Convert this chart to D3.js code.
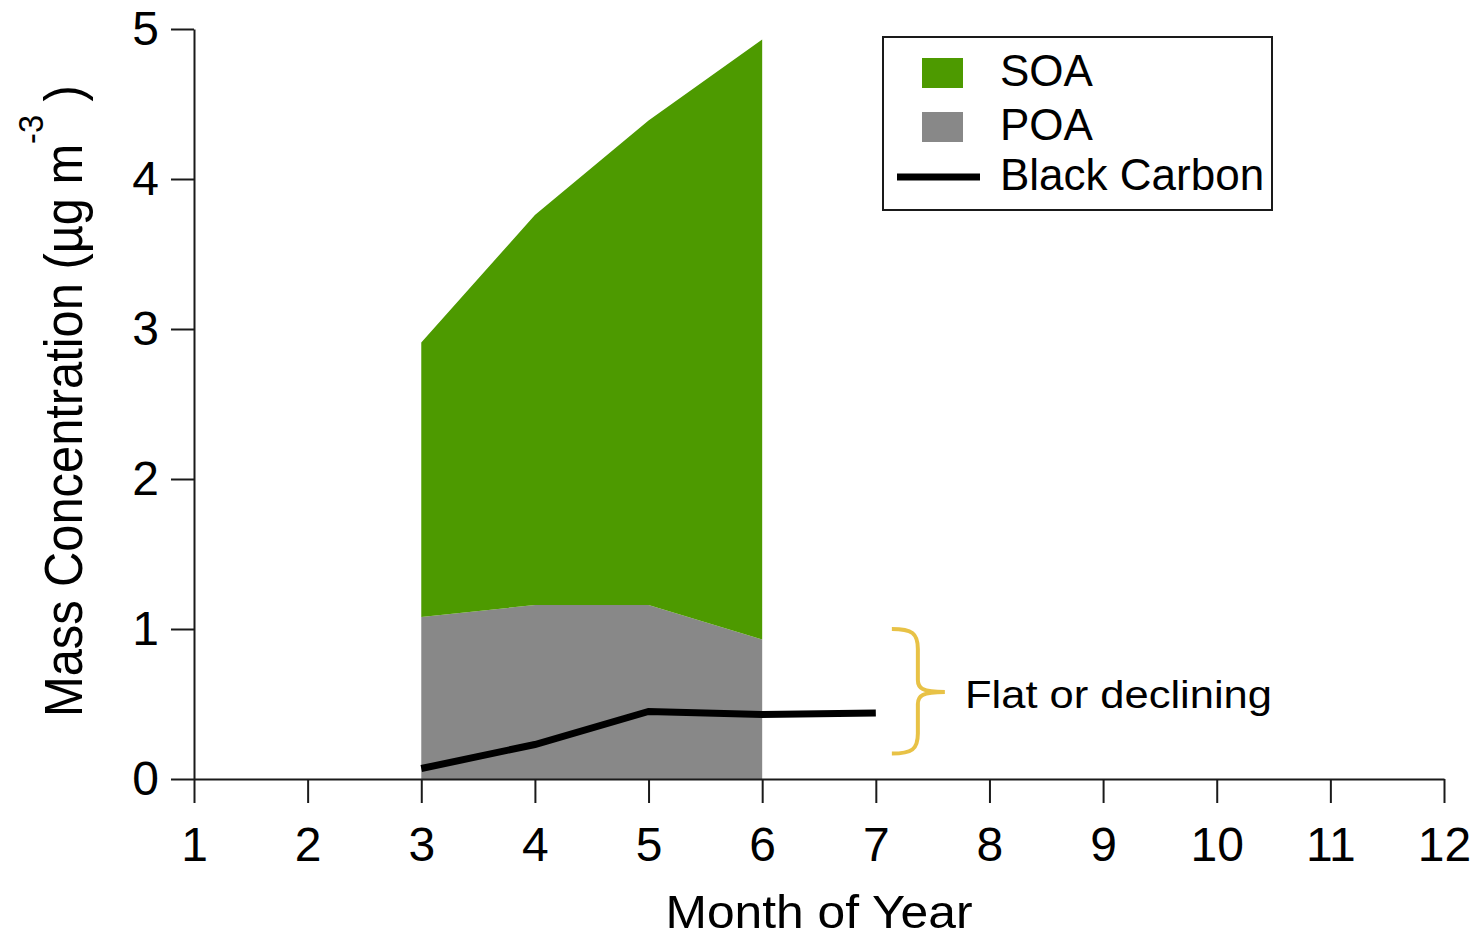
<!DOCTYPE html>
<html lang="en">
	<head>
		<meta charset="utf-8">
		<title>Mass Concentration by Month</title>
		<script src="https://d3js.org/d3.v7.min.js"></script>
		<style>
			body { margin: 0; background: #fff; }
			text { font-family: "Liberation Sans", Arial, sans-serif; fill: #000; }
		</style>
	</head>
	<body>
		<script type="text/javascript">

			// Data
			var months = [3, 4, 5, 6];
			var poa = [1.08, 1.16, 1.16, 0.93];
			var soa = [1.83, 2.60, 3.23, 4.00];
			var bcMonths = [3, 4, 5, 6, 7];
			var blackCarbon = [0.07, 0.23, 0.45, 0.43, 0.44];
			var xTicks = [1, 2, 3, 4, 5, 6, 7, 8, 9, 10, 11, 12];
			var yTicks = [0, 1, 2, 3, 4, 5];
			var legendItems = ["SOA", "POA", "Black Carbon"];

			// Width and height of svg
			var w = 1478;
			var h = 939;
			var green = "#4d9a00";
			var grey = "#888888";

			var xScale = d3.scaleLinear().domain([1, 12]).range([194, 1444]);
			var yScale = d3.scaleLinear().domain([0, 5]).range([779, 29]);

			var svg = d3.select("body").append("svg").attr("width", w).attr("height", h);

			// Stacked areas (POA on the bottom, SOA on top)
			var rows = months.map(function(m, i) { return { month: m, POA: poa[i], SOA: soa[i] }; });
			var stacked = d3.stack().keys(["POA", "SOA"])(rows);
			var area = d3.area()
				.x(function(d) { return xScale(d.data.month); })
				.y0(function(d) { return yScale(d[0]); })
				.y1(function(d) { return yScale(d[1]); });
			svg.selectAll("path.layer").data(stacked).enter().append("path")
				.attr("class", "layer")
				.attr("d", area)
				.attr("fill", function(d) { return d.key === "SOA" ? green : grey; });

			// Black carbon line
			var line = d3.line()
				.x(function(d, i) { return xScale(bcMonths[i]); })
				.y(function(d) { return yScale(d); });
			svg.append("path").datum(blackCarbon)
				.attr("d", line)
				.attr("fill", "none")
				.attr("stroke", "#000")
				.attr("stroke-width", 7);

			// Axes
			var xAxis = d3.axisBottom(xScale).tickValues(xTicks).tickSize(24).tickSizeOuter(0).tickPadding(24).tickFormat(d3.format("d"));
			var yAxis = d3.axisLeft(yScale).tickValues(yTicks).tickSize(23).tickSizeOuter(0).tickPadding(12).tickFormat(d3.format("d"));

			var gx = svg.append("g").attr("transform", "translate(0," + yScale(0) + ")").call(xAxis);
			var gy = svg.append("g").attr("transform", "translate(" + xScale(1) + ",0)").call(yAxis);
			[gx, gy].forEach(function(g) {
				g.selectAll("path, line").attr("stroke", "#1a1a1a").attr("stroke-width", 2);
				g.selectAll("text").attr("font-size", 48).attr("font-family", "Liberation Sans, Arial, sans-serif").attr("fill", "#000");
			});

			// Axis titles
			svg.append("text")
				.attr("x", (xScale(1) + xScale(12)) / 2)
				.attr("y", 928)
				.attr("text-anchor", "middle")
				.attr("font-size", 47)
				.attr("textLength", 307)
				.attr("lengthAdjust", "spacingAndGlyphs")
				.text("Month of Year");

			var ylab = svg.append("text")
				.attr("font-size", 54);
			ylab.append("tspan").text("Mass Concentration (µg m");
			ylab.append("tspan").attr("font-size", 36).attr("dy", -39).text("-3");
			ylab.append("tspan").attr("dy", 39).text(" )");
			var ylen = ylab.node().getComputedTextLength();
			var ysx = 632 / ylen;
			ylab.attr("transform", "translate(82,717) rotate(-90) scale(" + ysx + ",1)");

			// Legend
			var legend = svg.append("g");
			legend.append("rect")
				.attr("x", 883).attr("y", 37).attr("width", 389).attr("height", 173)
				.attr("fill", "#fff").attr("stroke", "#1a1a1a").attr("stroke-width", 2);
			var rowY = [73, 127, 177];
			legendItems.forEach(function(name, i) {
				if (i < 2) {
					legend.append("rect")
						.attr("x", 922).attr("y", rowY[i] - 15).attr("width", 41).attr("height", 30)
						.attr("fill", i === 0 ? green : grey);
				} else {
					legend.append("line")
						.attr("x1", 897).attr("x2", 980).attr("y1", rowY[i]).attr("y2", rowY[i])
						.attr("stroke", "#000").attr("stroke-width", 7);
				}
				legend.append("text")
					.attr("x", 1000).attr("y", rowY[i] + 13)
					.attr("font-size", 44)
					.text(name);
			});

			// Annotation bracket for black carbon
			var bx = xScale(7.37), bTop = yScale(1), bBot = yScale(0.17), bMid = yScale(0.58);
			var bracket = "M" + (bx - 26) + "," + bTop +
				" C" + (bx - 6) + "," + bTop + " " + bx + "," + (bTop + 4) + " " + bx + "," + (bTop + 20) +
				" L" + bx + "," + (bMid - 12) +
				" C" + bx + "," + (bMid - 4) + " " + (bx + 4) + "," + bMid + " " + (bx + 27) + "," + bMid +
				" M" + (bx + 27) + "," + bMid +
				" C" + (bx + 4) + "," + bMid + " " + bx + "," + (bMid + 4) + " " + bx + "," + (bMid + 12) +
				" L" + bx + "," + (bBot - 20) +
				" C" + bx + "," + (bBot - 4) + " " + (bx - 6) + "," + bBot + " " + (bx - 26) + "," + bBot;
			svg.append("path")
				.attr("d", bracket)
				.attr("fill", "none")
				.attr("stroke", "#e8c246")
				.attr("stroke-width", 4);

			svg.append("text")
				.attr("x", 965).attr("y", 708)
				.attr("font-family", "Lato, 'Open Sans', sans-serif")
				.attr("font-size", 38)
				.attr("textLength", 307)
				.attr("lengthAdjust", "spacingAndGlyphs")
				.text("Flat or declining");

		</script>
	</body>
</html>
